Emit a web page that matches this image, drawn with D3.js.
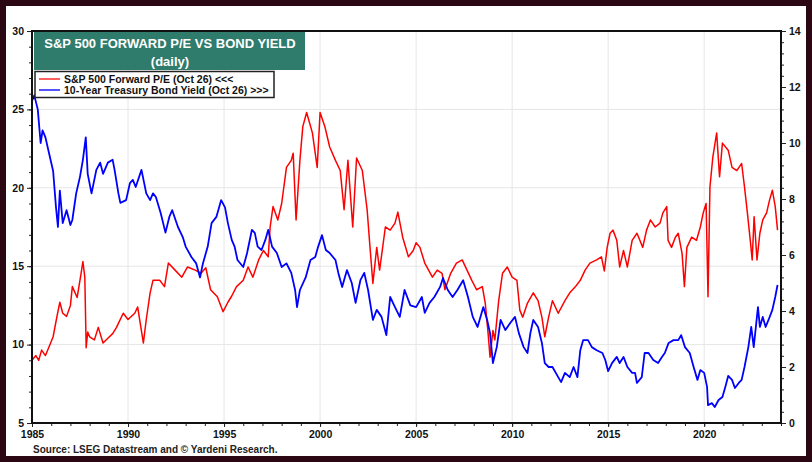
<!DOCTYPE html>
<html>
<head>
<meta charset="utf-8">
<script src="https://cdn.jsdelivr.net/npm/d3@7"></script>
<style>
  body { margin: 0; background: #2a0713; }
  svg { display: block; font-family: "Liberation Sans", Arial, sans-serif; }
</style>
</head>
<body>
<script>
// S&P 500 forward P/E vs 10-year bond yield (decimal years)
var peDates = [1985.0, 1985.2, 1985.35, 1985.5, 1985.7, 1985.9, 1986.1, 1986.3, 1986.45, 1986.6, 1986.8, 1987.0, 1987.1, 1987.35, 1987.55, 1987.65, 1987.75, 1987.82, 1987.9, 1988.0, 1988.25, 1988.45, 1988.7, 1988.95, 1989.2, 1989.4, 1989.75, 1990.0, 1990.35, 1990.5, 1990.8, 1990.95, 1991.15, 1991.3, 1991.65, 1991.9, 1992.1, 1992.45, 1992.8, 1993.1, 1993.5, 1993.8, 1994.05, 1994.3, 1994.65, 1994.95, 1995.2, 1995.4, 1995.65, 1996.0, 1996.25, 1996.5, 1996.8, 1997.05, 1997.3, 1997.4, 1997.55, 1997.8, 1998.0, 1998.25, 1998.5, 1998.6, 1998.75, 1998.95, 1999.1, 1999.3, 1999.6, 1999.85, 2000.0, 2000.25, 2000.5, 2000.8, 2001.05, 2001.25, 2001.45, 2001.7, 2001.9, 2002.2, 2002.45, 2002.6, 2002.75, 2002.95, 2003.1, 2003.4, 2003.65, 2003.9, 2004.05, 2004.3, 2004.6, 2004.85, 2005.0, 2005.2, 2005.45, 2005.85, 2006.1, 2006.35, 2006.5, 2006.8, 2007.1, 2007.4, 2007.65, 2007.9, 2008.15, 2008.45, 2008.6, 2008.75, 2008.85, 2009.0, 2009.1, 2009.3, 2009.5, 2009.75, 2010.0, 2010.25, 2010.4, 2010.55, 2010.8, 2011.1, 2011.35, 2011.55, 2011.7, 2011.9, 2012.1, 2012.4, 2012.75, 2013.0, 2013.3, 2013.55, 2013.8, 2014.05, 2014.4, 2014.65, 2014.8, 2014.95, 2015.1, 2015.25, 2015.45, 2015.6, 2015.8, 2016.0, 2016.25, 2016.5, 2016.65, 2016.8, 2017.0, 2017.2, 2017.45, 2017.7, 2017.85, 2018.05, 2018.12, 2018.3, 2018.5, 2018.65, 2018.85, 2018.97, 2019.1, 2019.35, 2019.6, 2019.8, 2019.95, 2020.1, 2020.2, 2020.3, 2020.45, 2020.65, 2020.8, 2020.95, 2021.25, 2021.45, 2021.7, 2021.95, 2022.1, 2022.25, 2022.4, 2022.5, 2022.6, 2022.75, 2022.9, 2023.05, 2023.25, 2023.4, 2023.55, 2023.7, 2023.82];
var peValues = [9.0, 9.3, 9.0, 9.65, 9.3, 9.9, 10.5, 11.8, 12.7, 12.0, 11.8, 12.5, 13.7, 13.0, 14.5, 15.3, 14.3, 9.8, 10.8, 10.5, 10.3, 11.1, 10.1, 10.4, 10.7, 11.1, 12.0, 11.6, 12.0, 12.4, 10.1, 11.6, 13.3, 14.1, 14.1, 13.7, 15.2, 14.75, 14.3, 14.95, 14.75, 14.55, 14.9, 13.5, 13.05, 12.1, 12.7, 13.1, 13.7, 14.1, 14.95, 14.3, 15.4, 16.0, 15.6, 17.5, 18.8, 17.95, 19.0, 21.3, 21.75, 22.2, 17.95, 21.75, 23.9, 24.8, 23.5, 21.3, 24.8, 23.9, 22.6, 21.75, 21.1, 18.6, 21.75, 17.5, 21.9, 21.1, 18.6, 16.2, 13.9, 16.2, 14.75, 17.5, 17.3, 17.75, 18.45, 16.85, 15.6, 16.0, 16.5, 16.2, 15.2, 14.3, 14.75, 14.55, 13.5, 14.55, 15.2, 15.4, 14.75, 14.1, 13.5, 13.7, 12.65, 10.7, 9.2, 10.9, 10.3, 12.8, 14.55, 14.95, 14.3, 14.1, 12.2, 11.75, 12.65, 13.3, 12.8, 11.75, 10.5, 11.75, 12.8, 12.0, 12.8, 13.3, 13.7, 14.1, 14.75, 15.2, 15.4, 15.6, 14.7, 16.2, 17.1, 17.3, 16.65, 14.95, 16.0, 14.95, 16.65, 17.1, 16.65, 16.2, 17.3, 17.95, 17.5, 17.75, 18.4, 18.8, 16.65, 16.2, 16.85, 17.1, 15.8, 13.7, 16.2, 16.85, 16.65, 17.5, 18.4, 19.0, 13.05, 20.05, 21.95, 23.5, 20.7, 22.85, 22.4, 21.3, 21.1, 21.55, 20.05, 18.4, 16.65, 15.4, 18.15, 15.4, 17.1, 17.95, 18.4, 19.2, 19.85, 18.8, 17.3];

var yieldDates = [1985.0, 1985.12, 1985.3, 1985.45, 1985.55, 1985.7, 1985.9, 1986.1, 1986.25, 1986.35, 1986.45, 1986.6, 1986.8, 1987.0, 1987.1, 1987.3, 1987.5, 1987.65, 1987.8, 1987.9, 1988.1, 1988.35, 1988.55, 1988.7, 1988.95, 1989.2, 1989.3, 1989.5, 1989.6, 1989.9, 1990.1, 1990.25, 1990.4, 1990.7, 1990.95, 1991.15, 1991.3, 1991.45, 1991.7, 1991.95, 1992.15, 1992.3, 1992.6, 1992.85, 1993.0, 1993.3, 1993.55, 1993.75, 1993.9, 1994.15, 1994.35, 1994.6, 1994.85, 1995.05, 1995.2, 1995.4, 1995.55, 1995.7, 1996.0, 1996.2, 1996.45, 1996.6, 1996.75, 1996.95, 1997.15, 1997.3, 1997.5, 1997.75, 1998.0, 1998.25, 1998.5, 1998.7, 1998.8, 1998.95, 1999.25, 1999.5, 1999.75, 1999.9, 2000.1, 2000.3, 2000.5, 2000.8, 2000.95, 2001.15, 2001.4, 2001.65, 2001.85, 2002.1, 2002.3, 2002.5, 2002.75, 2002.95, 2003.2, 2003.45, 2003.65, 2003.9, 2004.15, 2004.4, 2004.7, 2005.0, 2005.3, 2005.45, 2005.7, 2005.95, 2006.25, 2006.4, 2006.65, 2006.9, 2007.15, 2007.45, 2007.7, 2007.95, 2008.2, 2008.5, 2008.7, 2008.85, 2009.0, 2009.2, 2009.4, 2009.65, 2009.9, 2010.15, 2010.35, 2010.6, 2010.8, 2010.95, 2011.1, 2011.35, 2011.55, 2011.7, 2011.9, 2012.1, 2012.4, 2012.55, 2012.75, 2013.0, 2013.2, 2013.4, 2013.55, 2013.7, 2013.95, 2014.15, 2014.4, 2014.7, 2014.85, 2015.0, 2015.2, 2015.45, 2015.6, 2015.8, 2016.0, 2016.25, 2016.4, 2016.5, 2016.75, 2016.9, 2017.1, 2017.35, 2017.6, 2017.8, 2017.95, 2018.15, 2018.4, 2018.65, 2018.8, 2019.0, 2019.25, 2019.45, 2019.65, 2019.8, 2020.0, 2020.15, 2020.2, 2020.4, 2020.55, 2020.75, 2020.95, 2021.1, 2021.25, 2021.45, 2021.6, 2021.8, 2021.95, 2022.1, 2022.3, 2022.45, 2022.58, 2022.8, 2022.9, 2023.05, 2023.2, 2023.35, 2023.55, 2023.7, 2023.82];
var yieldValues = [11.5, 11.7, 11.2, 10.0, 10.45, 10.2, 9.6, 9.0, 7.7, 7.0, 8.3, 7.14, 7.6, 7.07, 7.25, 8.2, 8.8, 9.4, 10.2, 8.9, 8.2, 9.04, 9.3, 8.9, 9.3, 9.4, 9.04, 8.2, 7.86, 7.96, 8.57, 8.68, 8.43, 9.04, 8.2, 7.96, 8.2, 8.07, 7.5, 6.8, 7.36, 7.6, 7.0, 6.64, 6.3, 5.93, 5.7, 5.2, 5.7, 6.3, 7.14, 7.36, 7.96, 7.7, 7.14, 6.54, 6.3, 5.82, 5.57, 6.07, 6.9, 6.79, 6.3, 6.18, 6.54, 6.9, 6.3, 6.07, 5.57, 5.7, 5.36, 4.75, 4.14, 4.75, 5.2, 5.82, 5.93, 6.3, 6.71, 6.18, 6.07, 5.82, 5.36, 4.86, 5.46, 5.0, 4.29, 5.1, 5.36, 4.75, 3.68, 4.04, 3.79, 3.14, 4.5, 4.14, 3.79, 4.75, 4.2, 4.14, 4.5, 3.93, 4.29, 4.5, 4.86, 5.18, 4.75, 4.5, 4.75, 5.1, 4.5, 3.79, 3.43, 4.14, 3.68, 3.21, 2.14, 2.71, 3.68, 3.32, 3.57, 3.79, 3.21, 2.71, 2.5, 3.21, 3.68, 3.43, 2.86, 2.14, 2.0, 2.0, 1.64, 1.46, 1.79, 1.64, 2.0, 1.64, 2.6, 2.96, 2.96, 2.71, 2.6, 2.5, 2.25, 1.85, 2.14, 2.36, 2.14, 2.36, 2.0, 1.79, 1.79, 1.43, 1.64, 2.5, 2.5, 2.25, 2.14, 2.36, 2.5, 2.86, 2.96, 2.96, 3.14, 2.71, 2.5, 2.0, 1.54, 1.89, 1.79, 1.29, 0.64, 0.71, 0.57, 0.82, 0.93, 1.29, 1.68, 1.54, 1.25, 1.43, 1.54, 2.0, 2.71, 3.43, 2.71, 4.14, 3.43, 3.79, 3.43, 3.68, 4.04, 4.5, 4.93];

// tick labels
var yearTicks = [1985, 1990, 1995, 2000, 2005, 2010, 2015, 2020];
var leftTicks = [5, 10, 15, 20, 25, 30];
var rightTicks = [0, 2, 4, 6, 8, 10, 12, 14];

var titleLines = ["S&P 500 FORWARD P/E VS BOND YIELD", "(daily)"];
var legendLabels = ["S&P 500 Forward P/E (Oct 26) <<<", "10-Year Treasury Bond Yield (Oct 26) >>>"];
var legendColors = ["#ff2a2a", "#1a1aff"];

window.onload = function () {
    var w = 812, h = 462;
    var left = 32, right = 781, top = 31, bottom = 423;

    var svg = d3.select("body").append("svg")
        .attr("width", w)
        .attr("height", h);

    // white panel on dark frame
    svg.append("rect")
        .attr("x", 6).attr("y", 6)
        .attr("width", 800).attr("height", 450)
        .style("fill", "#ffffff");

    var x = d3.scaleLinear().domain([1985, 2024]).range([left, right]);
    var yL = d3.scaleLinear().domain([5, 30]).range([bottom, top]);
    var yR = d3.scaleLinear().domain([0, 14]).range([bottom, top]);

    // grid lines
    svg.append("g").selectAll("line.vg")
        .data(yearTicks.slice(1))
        .enter().append("line")
        .attr("x1", function (d) { return x(d); })
        .attr("x2", function (d) { return x(d); })
        .attr("y1", top).attr("y2", bottom)
        .style("stroke", "#e6e6e6").style("stroke-width", 1);
    svg.append("g").selectAll("line.hg")
        .data(leftTicks.slice(1, -1))
        .enter().append("line")
        .attr("x1", left).attr("x2", right)
        .attr("y1", function (d) { return yL(d); })
        .attr("y2", function (d) { return yL(d); })
        .style("stroke", "#e6e6e6").style("stroke-width", 1);

    // series
    var peLine = d3.line()
        .x(function (d, i) { return x(peDates[i]); })
        .y(function (d) { return yL(d); });
    var yieldLine = d3.line()
        .x(function (d, i) { return x(yieldDates[i]); })
        .y(function (d) { return yR(d); });

    svg.append("path")
        .datum(peValues)
        .attr("d", peLine)
        .style("fill", "none")
        .style("stroke", "#ff0000")
        .style("stroke-width", 1.5)
        .style("stroke-linejoin", "round");

    svg.append("path")
        .datum(yieldValues)
        .attr("d", yieldLine)
        .style("fill", "none")
        .style("stroke", "#0000ff")
        .style("stroke-width", 1.8)
        .style("stroke-linejoin", "round");

    // axes
    var minorYears = d3.range(1985, 2025);
    svg.append("g")
        .attr("transform", "translate(0," + bottom + ")")
        .call(d3.axisBottom(x).tickValues(minorYears).tickSize(3).tickFormat(""))
        .call(function (g) { g.select(".domain").remove(); });
    var xAxis = svg.append("g")
        .attr("transform", "translate(0," + bottom + ")")
        .call(d3.axisBottom(x).tickValues(yearTicks).tickSize(4).tickPadding(3.5).tickFormat(d3.format("d")));

    svg.append("g")
        .attr("transform", "translate(" + left + ",0)")
        .call(d3.axisLeft(yL).tickValues(d3.range(5, 31)).tickSize(3).tickFormat(""))
        .call(function (g) { g.select(".domain").remove(); });
    var yAxisL = svg.append("g")
        .attr("transform", "translate(" + left + ",0)")
        .call(d3.axisLeft(yL).tickValues(leftTicks).tickSize(5).tickPadding(3));

    svg.append("g")
        .attr("transform", "translate(" + right + ",0)")
        .call(d3.axisRight(yR).tickValues(d3.range(0, 35).map(function (i) { return i * 0.4; })).tickSize(3).tickFormat(""))
        .call(function (g) { g.select(".domain").remove(); });
    var yAxisR = svg.append("g")
        .attr("transform", "translate(" + right + ",0)")
        .call(d3.axisRight(yR).tickValues(rightTicks).tickSize(5).tickPadding(3));

    [xAxis, yAxisL, yAxisR].forEach(function (a) {
        a.select(".domain").remove();
        a.selectAll("text")
            .style("font-family", "Liberation Sans, Arial, sans-serif")
            .style("font-size", "10.5px")
            .style("font-weight", "bold")
            .style("fill", "#111");
    });
    svg.selectAll(".tick line").style("stroke", "#222");

    // plot frame
    svg.append("rect")
        .attr("x", left).attr("y", top)
        .attr("width", right - left).attr("height", bottom - top)
        .style("fill", "none")
        .style("stroke", "#111")
        .style("stroke-width", 2);

    // title box
    svg.append("rect")
        .attr("x", 34).attr("y", 32)
        .attr("width", 271).attr("height", 38)
        .style("fill", "#2f7b6c");
    svg.selectAll(".title")
        .data(titleLines)
        .enter().append("text")
        .attr("class", "title")
        .attr("x", 170)
        .attr("y", function (d, i) { return 48 + i * 18; })
        .attr("text-anchor", "middle")
        .style("font-size", "13px")
        .style("font-weight", "bold")
        .style("fill", "#ffffff")
        .text(function (d) { return d; });

    // legend
    svg.append("rect")
        .attr("x", 35).attr("y", 71.5)
        .attr("width", 239).attr("height", 26)
        .style("fill", "#ffffff")
        .style("stroke", "#222")
        .style("stroke-width", 1.5);
    var leg = svg.selectAll(".leg")
        .data(legendLabels)
        .enter().append("g")
        .attr("class", "leg")
        .attr("transform", function (d, i) { return "translate(0," + (79 + i * 11) + ")"; });
    leg.append("line")
        .attr("x1", 39).attr("x2", 60)
        .attr("y1", 0).attr("y2", 0)
        .style("stroke", function (d, i) { return legendColors[i]; })
        .style("stroke-width", 1.5);
    leg.append("text")
        .attr("x", 64).attr("y", 4)
        .style("font-size", "10.5px")
        .style("font-weight", "bold")
        .style("fill", "#111")
        .text(function (d) { return d; });

    // source note
    svg.append("text")
        .attr("x", 33).attr("y", 453)
        .style("font-size", "10px")
        .style("font-weight", "bold")
        .style("fill", "#222")
        .text("Source: LSEG Datastream and \u00a9 Yardeni Research.");
};
</script>
</body>
</html>
